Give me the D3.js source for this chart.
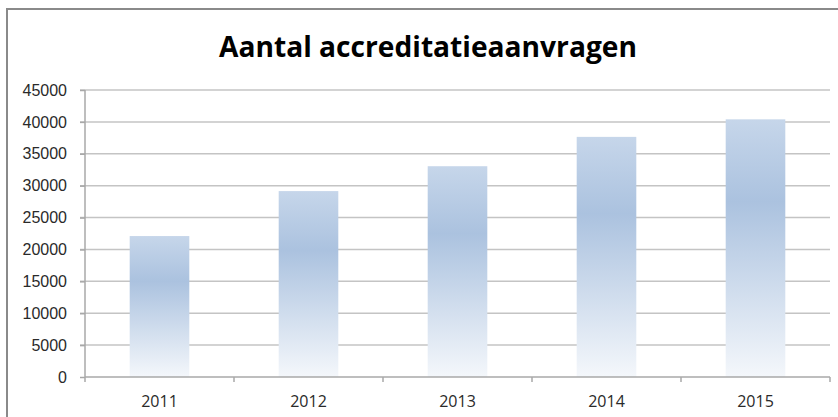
<!DOCTYPE html>
<html>
<head>
<meta charset="utf-8">
<script src="https://cdn.jsdelivr.net/npm/d3@7"></script>
<style>
  body { margin: 0; background: #fff; }
  svg { display: block; font-family: "Open Sans", "Liberation Sans", sans-serif; }
</style>
</head>
<body>
<div id="chart"></div>
<script>
var years = ["2011", "2012", "2013", "2014", "2015"];
var aanvragen = [22100, 29150, 33050, 37650, 40400];
var yTicks = [0, 5000, 10000, 15000, 20000, 25000, 30000, 35000, 40000, 45000];
var title = "Aantal accreditatieaanvragen";

var width = 838, height = 417;
var plot = {left: 85, right: 830, top: 90, bottom: 377};

var svg = d3.select("#chart").append("svg")
  .attr("width", width)
  .attr("height", height);

// bar gradient, light at top, darker upper-middle, fading to white at base
var grad = svg.append("defs").append("linearGradient")
  .attr("id", "barGrad")
  .attr("x1", 0).attr("y1", 0).attr("x2", 0).attr("y2", 1);
grad.append("stop").attr("offset", "0%").attr("stop-color", "#c6d6ea");
grad.append("stop").attr("offset", "32%").attr("stop-color", "#abc2df");
grad.append("stop").attr("offset", "100%").attr("stop-color", "#f4f7fb");

// chart frame (cut off at right and bottom)
svg.append("rect")
  .attr("x", 7).attr("y", 9)
  .attr("width", width + 10).attr("height", height + 10)
  .attr("fill", "#fff")
  .attr("stroke", "#8a8a8a")
  .attr("stroke-width", 2);

var x = d3.scaleBand()
  .domain(years)
  .range([plot.left, plot.right])
  .paddingInner(0.6)
  .paddingOuter(0.3);

var y = d3.scaleLinear()
  .domain([0, 45000])
  .range([plot.bottom, plot.top]);

// gridlines
svg.append("g")
  .selectAll("line")
  .data(yTicks.filter(function(d) { return d > 0; }))
  .enter().append("line")
  .attr("x1", plot.left - 5).attr("x2", plot.right)
  .attr("y1", function(d) { return y(d); })
  .attr("y2", function(d) { return y(d); })
  .attr("stroke", "#c4c4c4")
  .attr("stroke-width", 1.5);

// bars
svg.append("g")
  .selectAll("rect")
  .data(aanvragen)
  .enter().append("rect")
  .attr("x", function(d, i) { return x(years[i]); })
  .attr("y", function(d) { return y(d); })
  .attr("width", x.bandwidth())
  .attr("height", function(d) { return plot.bottom - y(d); })
  .attr("fill", "url(#barGrad)");

// y axis
var yAxis = svg.append("g")
  .attr("transform", "translate(" + plot.left + ",0)")
  .call(d3.axisLeft(y).tickValues(yTicks).tickSize(5).tickPadding(13).tickFormat(d3.format("d")));
yAxis.select(".domain").attr("stroke", "#a8a8a8").attr("stroke-width", 1.5).attr("d", "M0," + plot.top + "V" + plot.bottom);
yAxis.selectAll(".tick line").attr("stroke", "#a8a8a8").attr("stroke-width", 1.5);
yAxis.selectAll("text").attr("fill", "#2a2a2a").style("font-size", "16px");

// x axis with boundary ticks between categories
svg.append("line")
  .attr("x1", plot.left).attr("x2", plot.right)
  .attr("y1", plot.bottom).attr("y2", plot.bottom)
  .attr("stroke", "#a8a8a8").attr("stroke-width", 1.5);

var step = (plot.right - plot.left) / years.length;
svg.append("g")
  .selectAll("line")
  .data(d3.range(years.length + 1))
  .enter().append("line")
  .attr("x1", function(i) { return plot.left + i * step; })
  .attr("x2", function(i) { return plot.left + i * step; })
  .attr("y1", plot.bottom).attr("y2", plot.bottom + 5)
  .attr("stroke", "#a8a8a8").attr("stroke-width", 1.5);

svg.append("g")
  .selectAll("text")
  .data(years)
  .enter().append("text")
  .attr("x", function(d) { return x(d) + x.bandwidth() / 2; })
  .attr("y", 407)
  .attr("text-anchor", "middle")
  .attr("fill", "#2a2a2a")
  .style("font-size", "16px")
  .text(function(d) { return d; });

// title, scaled to the reference width
var t = svg.append("text")
  .attr("x", 428).attr("y", 57)
  .attr("text-anchor", "middle")
  .attr("font-weight", "bold")
  .attr("fill", "#000")
  .style("font-size", "30px")
  .text(title);
var w = t.node().getComputedTextLength();
t.style("font-size", (30 * 418 / w) + "px");
</script>
</body>
</html>
